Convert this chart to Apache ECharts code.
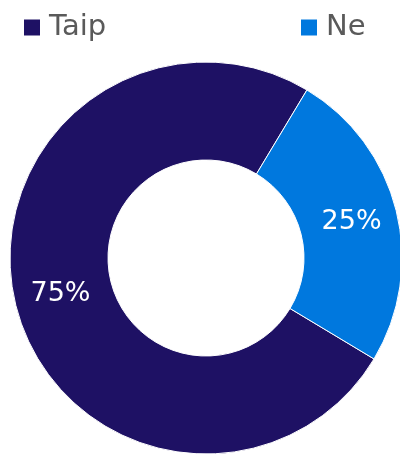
<!DOCTYPE html>
<html>
<head>
<meta charset="utf-8">
<style>html,body{margin:0;padding:0;background:#fff}#c{width:400px;height:455px}</style>
<script src="https://cdn.jsdelivr.net/npm/echarts@6/dist/echarts.min.js"></script>
</head>
<body>
<div id="c"></div>
<script>
const categories = ['Taip', 'Ne'];
const values = [75, 25];
const colors = ['#1e1164', '#0078de'];

const chart = echarts.init(document.getElementById('c'), null, {renderer: 'canvas'});
const legendText = {color: '#5a5a5a', fontSize: 29, fontFamily: 'DejaVu Sans, sans-serif', padding: [0, 0, 0, 3]};
chart.setOption({
  animation: false,
  color: colors,
  legend: [
    {data: [categories[0]], left: 17, top: 8, icon: 'rect', itemWidth: 18, itemHeight: 18, itemGap: 0, textStyle: legendText},
    {data: [categories[1]], left: 294, top: 8, icon: 'rect', itemWidth: 18, itemHeight: 18, itemGap: 0, textStyle: legendText}
  ],
  series: [{
    type: 'pie',
    center: [206, 258],
    radius: [98, 196],
    startAngle: 329,
    clockwise: true,
    itemStyle: {borderColor: '#fff', borderWidth: 1},
    label: {show: true, position: 'inside', color: '#fff', fontSize: 27, fontFamily: 'DejaVu Sans, sans-serif', formatter: '{d}%'},
    labelLine: {show: false},
    emphasis: {disabled: true},
    data: categories.map((n, i) => ({name: n, value: values[i]}))
  }]
});
</script>
</body>
</html>
